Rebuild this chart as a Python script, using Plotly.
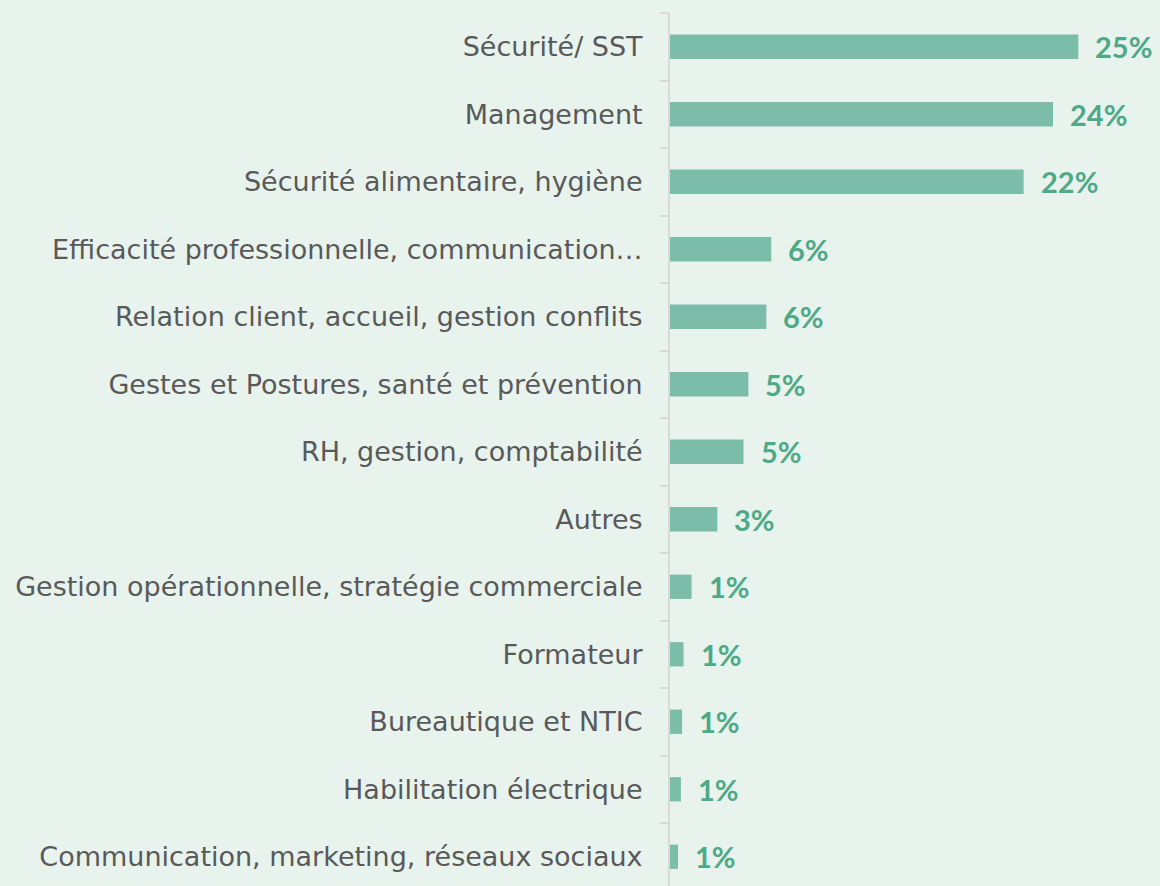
import plotly.graph_objects as go

categories = [
    "Sécurité/ SST",
    "Management",
    "Sécurité alimentaire, hygiène",
    "Efficacité professionnelle, communication…",
    "Relation client, accueil, gestion conflits",
    "Gestes et Postures, santé et prévention",
    "RH, gestion, comptabilité",
    "Autres",
    "Gestion opérationnelle, stratégie commerciale",
    "Formateur",
    "Bureautique et NTIC",
    "Habilitation électrique",
    "Communication, marketing, réseaux sociaux",
]
values = [25.0, 23.45, 21.65, 6.2, 5.9, 4.8, 4.5, 2.9, 1.32, 0.83, 0.74, 0.67, 0.49]
labels = ["25%", "24%", "22%", "6%", "6%", "5%", "5%", "3%", "1%", "1%", "1%", "1%", "1%"]

BG = "#e8f3ee"
BAR = "#7cbdaa"
TXT = "#4ea987"

fig = go.Figure(go.Bar(
    x=values, y=categories, orientation="h",
    marker=dict(color=BAR, line=dict(width=0)),
    width=0.36, hoverinfo="skip",
))

for v, c, l in zip(values, categories, labels):
    fig.add_annotation(x=v, y=c, text=l, showarrow=False, xanchor="left",
                       xshift=15, font=dict(family="Lato", size=29, color=TXT, weight="bold"))

fig.update_layout(
    width=1160, height=886,
    margin=dict(l=670, r=0, t=13, b=0),
    paper_bgcolor=BG, plot_bgcolor=BG,
    showlegend=False,
    xaxis=dict(range=[0, 30], visible=False, fixedrange=True),
    yaxis=dict(
        type="category",
        range=[12.433, -0.5],
        showline=True, linecolor="#d9d9d9", linewidth=2,
        ticks="outside", tickson="boundaries", ticklen=8, tickcolor="#d9d9d9", tickwidth=2,
        showgrid=False, ticklabelstandoff=20, fixedrange=True,
        tickfont=dict(family="DejaVu Sans", size=27, color="#595959"),
    ),
)

fig.write_html("out.html", config={"displayModeBar": False},
               post_script="document.body.style.margin='0';document.body.style.background='%s';" % BG)
